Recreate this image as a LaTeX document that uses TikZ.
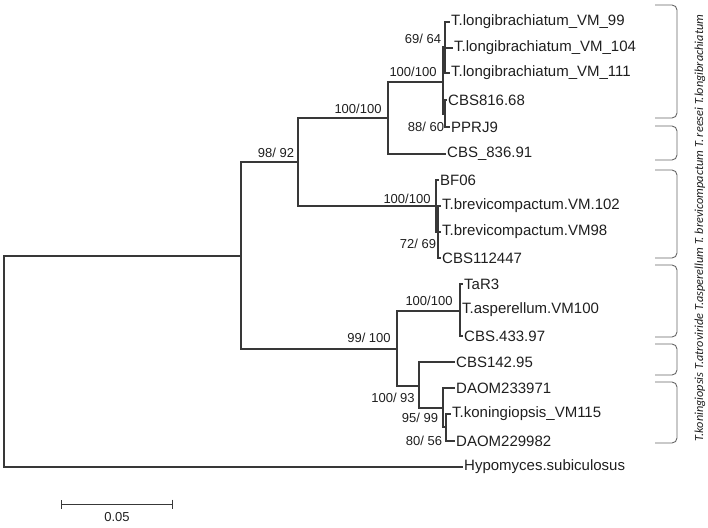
\documentclass[tikz,border=0pt]{standalone}
\usepackage{fontspec}
\setmainfont{Liberation Sans}
\newfontfamily\cladefont{Carlito}
\usetikzlibrary{arrows.meta}

\begin{document}
\begin{tikzpicture}[x=1pt,y=-1pt,
  branch/.style={draw=black!78,line width=1.2pt},
  taxon/.style={anchor=west,inner sep=1.5pt,text=black!88,font=\fontsize{15}{17}\selectfont},
  boot/.style={inner sep=0pt,text=black!88,font=\fontsize{13}{15}\selectfont},
  clade/.style={rotate=90,inner sep=0pt,text=black!88,font=\cladefont\itshape\fontsize{12.3}{14}\selectfont},
  bracket/.style={draw=black!60,line width=0.9pt,rounded corners=5pt}]
\useasboundingbox (0,0) rectangle (708,527);

\node[taxon] (l1) at (449.5,22) {T.longibrachiatum\_VM\_99};
\node[taxon] (l2) at (452.5,48) {T.longibrachiatum\_VM\_104};
\node[taxon] (l3) at (449.5,73) {T.longibrachiatum\_VM\_111};
\node[taxon] (l4) at (446.5,100) {CBS816.68};
\node[taxon] (l5) at (449.5,127) {PPRJ9};
\node[taxon] (l6) at (445.5,154) {CBS\_836.91};
\node[taxon] (l7) at (438.5,180) {BF06};
\node[taxon] (l8) at (440.5,206) {T.brevicompactum.VM.102};
\node[taxon] (l9) at (440.5,232) {T.brevicompactum.VM98};
\node[taxon] (l10) at (440.5,258) {CBS112447};
\node[taxon] (l11) at (462.5,284) {TaR3};
\node[taxon] (l12) at (460.5,310) {T.asperellum.VM100};
\node[taxon] (l13) at (462.5,336) {CBS.433.97};
\node[taxon] (l14) at (454.5,362) {CBS142.95};
\node[taxon] (l15) at (454.5,388) {DAOM233971};
\node[taxon] (l16) at (450.5,414) {T.koningiopsis\_VM115};
\node[taxon] (l17) at (454.5,441) {DAOM229982};
\node[taxon] (l18) at (462.5,467) {Hypomyces.subiculosus};

\coordinate (root) at (4,361);
\coordinate (A) at (241,256);
\coordinate (B) at (298,162);
\coordinate (D) at (388,118);
\coordinate (F) at (443,82);
\coordinate (K) at (445,47);
\coordinate (L) at (445,114);
\coordinate (E) at (436,206);
\coordinate (E2) at (438,232);
\coordinate (C) at (397,349);
\coordinate (G) at (460,311);
\coordinate (H) at (419,386);
\coordinate (I) at (443,408);
\coordinate (J) at (446,427);

\draw[branch] (root) |- (A);
\draw[branch] (root) |- (l18.west);
\draw[branch] (A) |- (B);
\draw[branch] (A) |- (C);
\draw[branch] (B) |- (D);
\draw[branch] (B) |- (E);
\draw[branch] (D) |- (F);
\draw[branch] (D) |- (l6.west);
\draw[branch] (F) |- (K);
\draw[branch] (F) |- (L);
\draw[branch] (K) |- (l1.west);
\draw[branch] (K) |- (l2.west);
\draw[branch] (K) |- (l3.west);
\draw[branch] (L) |- (l4.west);
\draw[branch] (L) |- (l5.west);
\draw[branch] (E) |- (l7.west);
\draw[branch] (E) |- (E2);
\draw[branch] (E2) |- (l8.west);
\draw[branch] (E2) |- (l9.west);
\draw[branch] (E2) |- (l10.west);
\draw[branch] (C) |- (G);
\draw[branch] (C) |- (H);
\draw[branch] (G) |- (l11.west);
\draw[branch] (G) |- (l12.west);
\draw[branch] (G) |- (l13.west);
\draw[branch] (H) |- (l14.west);
\draw[branch] (H) |- (I);
\draw[branch] (I) |- (l15.west);
\draw[branch] (I) |- (J);
\draw[branch] (J) |- (l16.west);
\draw[branch] (J) |- (l17.west);

\node[boot] (bF) at (413,72) {100/100};
\node[boot] (bK) at (423,39) {69/ 64};
\node[boot] (bL) at (426,127) {88/ 60};
\node[boot] (bD) at (358,109) {100/100};
\node[boot] (bB) at (276,153) {98/ 92};
\node[boot] (bE) at (407,199) {100/100};
\node[boot] (bE2) at (418,244) {72/ 69};
\node[boot] (bC) at (369,338) {99/ 100};
\node[boot] (bG) at (429,301) {100/100};
\node[boot] (bH) at (393,398) {100/ 93};
\node[boot] (bI) at (420,418) {95/ 99};
\node[boot] (bJ) at (424,441) {80/ 56};

\foreach \t/\b in {5/118,126/160,170/258,265/337,344/375,382/443}
  \draw[bracket] (655,\t) -- (677,\t) -- (677,\b) -- (655,\b);

\node[clade] (clades) at (700,228) {T.koningiopsis T.atroviride T.asperellum T. brevicompactum T. reesei T.longibrachiatum};

\coordinate (s0) at (61,504);
\coordinate (s1) at (173,504);
\draw[branch,line width=1pt,{Bar[width=9pt]}-{Bar[width=9pt]}] (s0) -- (s1);
\node[boot,font=\fontsize{13}{15}\selectfont] (scale) at (117,517) {0.05};

\end{tikzpicture}
\end{document}
